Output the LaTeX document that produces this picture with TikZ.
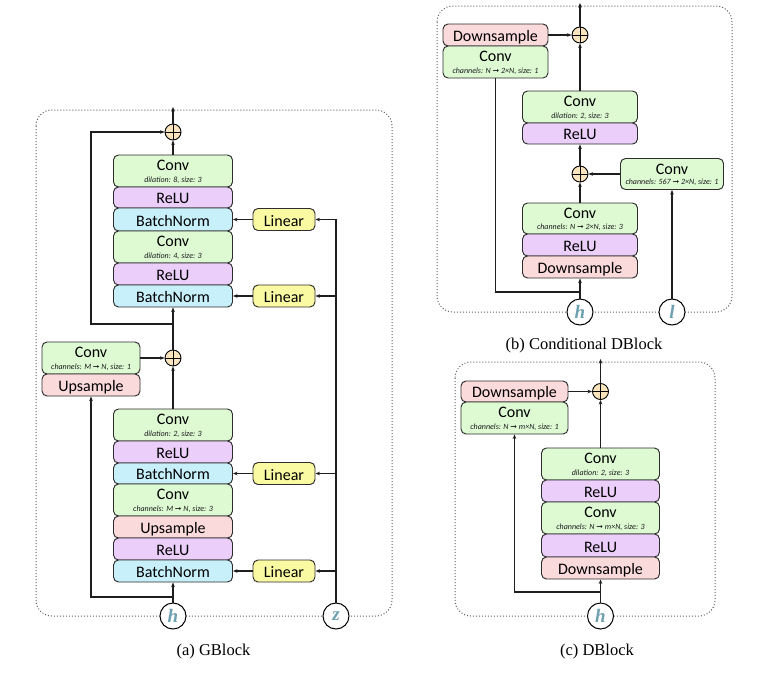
\documentclass[tikz,border=0pt]{standalone}
\usepackage{fontspec}
\setmainfont{Liberation Serif}
\newfontfamily\lblfont{Carlito}
\newfontfamily\arrfont{DejaVu Sans}
\usetikzlibrary{arrows.meta}
\definecolor{convc}{RGB}{221,250,211}
\definecolor{reluc}{RGB}{235,206,250}
\definecolor{bnc}{RGB}{200,240,250}
\definecolor{linc}{RGB}{250,250,162}
\definecolor{sampc}{RGB}{250,218,218}
\definecolor{sumc}{RGB}{250,228,190}
\definecolor{letc}{RGB}{110,160,176}
\definecolor{linec}{RGB}{30,30,30}
\definecolor{bordc}{RGB}{45,45,45}
\definecolor{framec}{RGB}{95,95,95}
\definecolor{subc}{RGB}{25,25,25}
\tikzset{
 boxs/.style={draw=bordc, line width=0.95pt, rounded corners=5pt, inner sep=0pt},
 lbl/.style={font=\lblfont\fontsize{16}{19}\selectfont, text=black, inner sep=0pt},
 subl/.style={font=\lblfont\itshape\fontsize{8}{9}\selectfont, text=subc, inner sep=0pt},
 sumn/.style={circle, draw=black, fill=sumc, line width=0.9pt, minimum size=16pt, inner sep=0pt,
   path picture={\draw[line width=0.8pt] (path picture bounding box.north) -- (path picture bounding box.south) (path picture bounding box.west) -- (path picture bounding box.east);}},
 inn/.style={circle, draw=black, fill=white, line width=1pt, minimum size=26pt, inner sep=0pt, font=\bfseries\itshape\fontsize{19}{20}\selectfont, text=letc},
 arr/.style={draw=linec, line width=1.1pt, -{Stealth[length=4.5pt,width=3.6pt]}},
 ln/.style={draw=linec, line width=1.1pt},
 frame/.style={draw=framec, dotted, line width=1pt, rounded corners=16pt},
 captxt/.style={font=\fontsize{16.5}{18}\selectfont, inner sep=0pt, anchor=base},
}
\newcommand\mybox[7]{\node[boxs, fill=#6, minimum width=#4pt, minimum height=#5pt] (#1) at (#2,#3) {};\node[lbl, anchor=base] (#1t) at ([yshift=4.5pt]#1.south) {#7};}
\newcommand\myconv[6]{\node[boxs, fill=convc, minimum width=#4pt, minimum height=#5pt] (#1) at (#2,#3) {};\node[lbl, anchor=base] (#1t) at ([yshift=-16pt]#1.north) {Conv};\node[subl, anchor=base] (#1s) at ([yshift=5pt]#1.south) {#6};}
\newcommand\ra{{\arrfont\upshape ➞}}
\begin{document}
\begin{tikzpicture}[x=1pt,y=-1pt]
\useasboundingbox (0,0) rectangle (760,673);
% frames
\draw[frame] (36,110) rectangle (392,616);
\draw[frame] (437,6) rectangle (732,312);
\draw[frame] (455,362) rectangle (715,616);

% ===== GBlock =====
\myconv{gc1}{173}{171}{119}{32}{dilation: 8, size: 3}
\mybox{gr1}{173}{197.5}{119}{21}{reluc}{ReLU}
\mybox{gb1}{173}{219.5}{119}{23}{bnc}{BatchNorm}
\myconv{gc2}{173}{247}{119}{32}{dilation: 4, size: 3}
\mybox{gr2}{173}{274}{119}{22}{reluc}{ReLU}
\mybox{gb2}{173}{296}{119}{22}{bnc}{BatchNorm}
\myconv{gc3}{173}{425}{119}{32}{dilation: 2, size: 3}
\mybox{gr3}{173}{452}{119}{22}{reluc}{ReLU}
\mybox{gb3}{173}{473.5}{119}{21}{bnc}{BatchNorm}
\myconv{gc4}{173}{500}{119}{32}{channels: M \ra{} N, size: 3}
\mybox{gu1}{173}{527}{119}{22}{sampc}{Upsample}
\mybox{gr4}{173}{549}{119}{22}{reluc}{ReLU}
\mybox{gb4}{173}{571}{119}{22}{bnc}{BatchNorm}
\myconv{gsc}{91}{358}{98}{32}{channels: M \ra{} N, size: 1}
\mybox{gup}{91}{385}{98}{22}{sampc}{Upsample}
\mybox{gl1}{284}{219.5}{62}{22}{linc}{Linear}
\mybox{gl2}{284}{296}{62}{22}{linc}{Linear}
\mybox{gl3}{284}{473.5}{62}{22}{linc}{Linear}
\mybox{gl4}{284}{571}{62}{22}{linc}{Linear}
\node[sumn] (gs1) at (173,132) {};
\node[sumn] (gs2) at (173,358) {};
\node[inn] (gh) at (173,616) {h};
\node[inn] (gz) at (336,616) {z};
\coordinate (gtop) at (173,107);
\coordinate (gk1) at (173,324);
\coordinate (gsk) at (91,132);
\coordinate (gk2) at (173,597);
\draw[arr] (gs1.north) -- (gtop);
\draw[arr] (gc1.north) -- (gs1.south);
\draw[arr] (gs2.north) -- (gb2.south);
\draw[arr] (gk1) -| (gsk) -- (gs1.west);
\draw[arr] (gc3.north) -- (gs2.south);
\draw[arr] (gsc.east) -- (gs2.west);
\draw[arr] (gh.north) -- (gb4.south);
\draw[arr] (gk2) -| (gup.south);
\draw[arr] (gz.north) |- (gl1.east);
\draw[arr] (gz.north |- gl2.east) -- (gl2.east);
\draw[arr] (gz.north |- gl3.east) -- (gl3.east);
\draw[arr] (gz.north |- gl4.east) -- (gl4.east);
\draw[arr] (gl1.west) -- (gb1.east);
\draw[arr] (gl2.west) -- (gb2.east);
\draw[arr] (gl3.west) -- (gb3.east);
\draw[arr] (gl4.west) -- (gb4.east);
\node[captxt] (gcap) at (213.5,655) {(a) GBlock};

% ===== Conditional DBlock =====
\mybox{bsd}{495.5}{35}{105}{22}{sampc}{Downsample}
\myconv{bsc}{495.5}{62}{105}{32}{channels: N \ra{} 2×N, size: 1}
\myconv{bc1}{580}{107}{115}{32}{dilation: 2, size: 3}
\mybox{br1}{580}{133.5}{115}{21}{reluc}{ReLU}
\myconv{bcc}{672}{174}{103}{31}{channels: 567 \ra{} 2×N, size: 1}
\myconv{bc2}{580}{218.5}{115}{31}{channels: N \ra{} 2×N, size: 3}
\mybox{br2}{580}{245}{115}{22}{reluc}{ReLU}
\mybox{bds}{580}{267}{115}{22}{sampc}{Downsample}
\node[sumn] (bs1) at (580,35) {};
\node[sumn] (bs2) at (580,174) {};
\node[inn] (bh) at (580,312) {h};
\node[inn] (bl) at (672,312) {l};
\coordinate (btop) at (580,3);
\coordinate (bk) at (580,292);
\draw[arr] (bs1.north) -- (btop);
\draw[arr] (bsd.east) -- (bs1.west);
\draw[arr] (bc1.north) -- (bs1.south);
\draw[arr] (bs2.north) -- (br1.south);
\draw[arr] (bcc.west) -- (bs2.east);
\draw[arr] (bl.north) -- (bcc.south);
\draw[arr] (bc2.north) -- (bs2.south);
\draw[arr] (bh.north) -- (bds.south);
\draw[ln] (bk) -| (bsc.south);
\node[captxt] (bcap) at (584,349) {(b) Conditional DBlock};

% ===== DBlock =====
\mybox{csd}{514.5}{391.5}{107}{21}{sampc}{Downsample}
\myconv{csc}{514.5}{418}{107}{32}{channels: N \ra{} m×N, size: 1}
\myconv{cc1}{600.5}{464}{118}{32}{dilation: 2, size: 3}
\mybox{cr1}{600.5}{491}{118}{22}{reluc}{ReLU}
\myconv{cc2}{600.5}{518}{118}{32}{channels: N \ra{} m×N, size: 3}
\mybox{cr2}{600.5}{545.5}{118}{23}{reluc}{ReLU}
\mybox{cds}{600.5}{568}{118}{22}{sampc}{Downsample}
\node[sumn] (cs1) at (600.5,391.5) {};
\node[inn] (ch) at (600.5,616) {h};
\coordinate (ctop) at (600.5,359);
\coordinate (ck) at (600.5,592);
\draw[arr] (cs1.north) -- (ctop);
\draw[arr] (csd.east) -- (cs1.west);
\draw[arr] (cc1.north) -- (cs1.south);
\draw[arr] (ch.north) -- (cds.south);
\draw[arr] (ck) -| (csc.south);
\node[captxt] (ccap) at (597,655) {(c) DBlock};
\end{tikzpicture}
\end{document}
